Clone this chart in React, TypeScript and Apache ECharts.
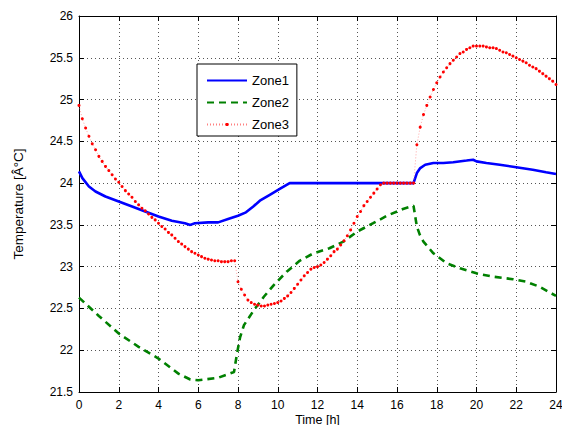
import React, { useEffect, useRef } from "react";
import * as echarts from "echarts";

const seriesNames = ["Zone1", "Zone2", "Zone3"];

// Zone1 [time h, temperature]
const zone1Points: [number, number][] = [
  [0, 24.14], [0.17, 24.06], [0.5, 23.96], [0.83, 23.9], [1.33, 23.84], [2, 23.78],
  [2.67, 23.72], [3.33, 23.66], [4, 23.6], [4.67, 23.55], [5.33, 23.52], [5.6, 23.5],
  [5.83, 23.52], [6.5, 23.53], [7, 23.53], [7.5, 23.57], [8, 23.61], [8.4, 23.65],
  [8.77, 23.72], [9.1, 23.79], [9.6, 23.86], [10.1, 23.93], [10.6, 24.0], [16.83, 24.0],
  [17.0, 24.12], [17.17, 24.18], [17.42, 24.22], [17.83, 24.24], [18.33, 24.24],
  [18.83, 24.25], [19.5, 24.27], [19.83, 24.28], [20.0, 24.26], [20.5, 24.24],
  [21.17, 24.22], [22, 24.19], [22.83, 24.16], [23.5, 24.13], [24, 24.11],
];

// Zone2 [time h, temperature]
const zone2Points: [number, number][] = [
  [0, 22.63], [1, 22.41], [2, 22.2], [3, 22.04], [4, 21.9], [5, 21.72], [5.6, 21.65],
  [6, 21.64], [7, 21.67], [7.8, 21.74], [7.95, 21.96], [8.1, 22.15], [8.3, 22.3],
  [8.8, 22.48], [9.3, 22.64], [9.8, 22.78], [10.45, 22.94], [11.1, 23.07], [11.8, 23.16],
  [12.6, 23.22], [13.3, 23.3], [14.0, 23.42], [14.8, 23.52], [15.5, 23.61], [16.3, 23.69],
  [16.83, 23.73], [17.0, 23.48], [17.15, 23.38], [17.33, 23.3], [17.83, 23.16],
  [18.5, 23.04], [19.17, 22.98], [20, 22.92], [20.83, 22.88], [21.83, 22.85],
  [22.5, 22.82], [23.17, 22.76], [24, 22.65],
];

// Zone3 sampled every 10 minutes (1/6 h) from 0 h to 24 h
const zone3Step = 1 / 6;
const zone3Values: number[] = [
  24.93, 24.77, 24.66, 24.56, 24.47, 24.4, 24.32, 24.26, 24.2, 24.15, 24.1, 24.05,
  24.01, 23.96, 23.91, 23.87, 23.83, 23.78, 23.74, 23.7, 23.67, 23.63, 23.59, 23.56,
  23.52, 23.48, 23.45, 23.41, 23.38, 23.34, 23.3, 23.27, 23.24, 23.21, 23.18, 23.16,
  23.14, 23.12, 23.1, 23.09, 23.08, 23.07, 23.07, 23.06, 23.06, 23.06, 23.07, 23.07,
  22.82, 22.73, 22.66, 22.6, 22.57, 22.55, 22.54, 22.53, 22.53, 22.54, 22.55, 22.56,
  22.57, 22.59, 22.62, 22.65, 22.69, 22.74, 22.79, 22.84, 22.89, 22.93, 22.97, 22.99,
  23.0, 23.02, 23.05, 23.09, 23.13, 23.18, 23.21, 23.26, 23.31, 23.37, 23.44, 23.52,
  23.6, 23.66, 23.73, 23.78, 23.83, 23.88, 23.93, 23.98, 24.0, 24.0, 24.0, 24.0,
  24.0, 24.0, 24.0, 24.0, 24.0, 24.0,
  24.46, 24.67, 24.82, 24.93, 25.03, 25.12, 25.2, 25.27, 25.33, 25.38, 25.43, 25.47,
  25.51, 25.55, 25.57, 25.6, 25.62, 25.64, 25.64, 25.64, 25.64, 25.63, 25.62, 25.62,
  25.61, 25.59, 25.57, 25.56, 25.54, 25.52, 25.5, 25.48, 25.46, 25.44, 25.41, 25.39,
  25.37, 25.34, 25.31, 25.28, 25.25, 25.22, 25.18,
];

const xMin = 0;
const xMax = 24;
const xInterval = 2;
const yMin = 21.5;
const yMax = 26;
const yInterval = 0.5;

const FONT = "'Liberation Sans', Arial, Helvetica, sans-serif";

export default function App() {
  const ref = useRef<HTMLDivElement>(null);

  useEffect(() => {
    if (!ref.current) return;
    document.body.style.margin = "0";
    document.body.style.overflow = "hidden";
    const chart = echarts.init(ref.current, undefined, { renderer: "svg", width: 562, height: 425 });
    const zone3Points = zone3Values.map((v, i) => [i * zone3Step, v]);

    const gridLine = { show: true, lineStyle: { color: "#555", width: 1, type: [1, 3] } };
    const axisLine = { show: true, onZero: false, lineStyle: { color: "#000", width: 1 } };
    const axisTick = { show: true, inside: true, length: 5, lineStyle: { color: "#000", width: 1 } };

    chart.setOption({
      animation: false,
      backgroundColor: "#fff",
      textStyle: { fontFamily: FONT },
      grid: {
        left: 79,
        top: 16,
        width: 477,
        height: 376,
        containLabel: false,
        outerBoundsMode: "none",
      },
      legend: {
        data: [
          { name: seriesNames[0], itemStyle: { opacity: 0 } },
          { name: seriesNames[1], itemStyle: { opacity: 0 } },
          { name: seriesNames[2] },
        ],
        orient: "vertical",
        left: 197,
        top: 64,
        itemWidth: 40,
        itemHeight: 4,
        itemGap: 9,
        padding: [10, 8, 5, 9],
        borderColor: "#000",
        borderWidth: 1,
        backgroundColor: "#fff",
        textStyle: { fontSize: 13, color: "#000", fontFamily: FONT },
      },
      xAxis: [
        {
          type: "value",
          min: xMin,
          max: xMax,
          interval: xInterval,
          name: "Time [h]",
          nameLocation: "middle",
          nameGap: 21,
          nameMoveOverlap: false,
          nameTextStyle: { fontSize: 12.5, color: "#000", fontFamily: FONT },
          axisLine,
          axisTick,
          axisLabel: { color: "#000", fontSize: 12, margin: 7, fontFamily: FONT },
          splitLine: gridLine,
        },
        {
          type: "value",
          position: "top",
          min: xMin,
          max: xMax,
          interval: xInterval,
          axisLine,
          axisTick,
          axisLabel: { show: false },
          splitLine: { show: false },
        },
      ],
      yAxis: [
        {
          type: "value",
          min: yMin,
          max: yMax,
          interval: yInterval,
          name: "Temperature [Â°C]",
          nameLocation: "middle",
          nameGap: 54,
          nameMoveOverlap: false,
          nameTextStyle: { fontSize: 13.5, color: "#000", fontFamily: FONT },
          axisLine,
          axisTick,
          axisLabel: { color: "#000", fontSize: 12, margin: 6, fontFamily: FONT },
          splitLine: gridLine,
        },
        {
          type: "value",
          position: "right",
          min: yMin,
          max: yMax,
          interval: yInterval,
          axisLine,
          axisTick,
          axisLabel: { show: false },
          splitLine: { show: false },
        },
      ],
      series: [
        {
          name: seriesNames[0],
          type: "line",
          data: zone1Points,
          symbol: "none",
          lineStyle: { color: "#0000ff", width: 2.6 },
          itemStyle: { color: "#0000ff" },
          z: 3,
        },
        {
          name: seriesNames[1],
          type: "line",
          data: zone2Points,
          symbol: "none",
          lineStyle: { color: "#008000", width: 2.6, type: [7, 5] },
          itemStyle: { color: "#008000" },
          z: 2,
        },
        {
          name: seriesNames[2],
          type: "line",
          data: zone3Points,
          symbol: "circle",
          symbolSize: 3,
          showSymbol: true,
          showAllSymbol: true,
          lineStyle: { color: "#ff8080", width: 0.7, type: [1, 2] },
          itemStyle: { color: "#ff0000" },
          z: 4,
        },
      ],
    });
    return () => chart.dispose();
  }, []);

  return <div ref={ref} style={{ width: 562, height: 425, background: "#fff" }} />;
}
